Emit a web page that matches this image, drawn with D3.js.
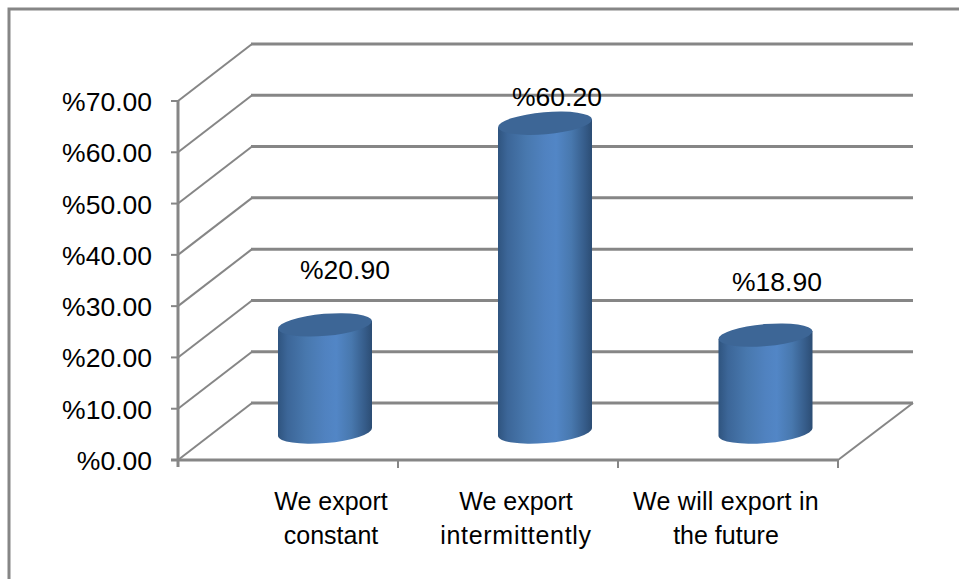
<!DOCTYPE html>
<html><head><meta charset="utf-8">
<script src="https://cdn.jsdelivr.net/npm/d3@7/dist/d3.min.js"></script>
<style>html,body{margin:0;padding:0;background:#fff;overflow:hidden}svg{display:block}text{font-family:"Liberation Sans",Arial,sans-serif;fill:#000}</style>
</head><body><svg id="c" width="959" height="579"></svg>
<script>
const categories=[["We export","constant"],["We export","intermittently"],["We will export in","the future"]];
const values=[20.9,60.2,18.9];
const dataLabels=["%20.90","%60.20","%18.90"];
const ticks=[0,10,20,30,40,50,60,70];
const tickLabels=["%0.00","%10.00","%20.00","%30.00","%40.00","%50.00","%60.00","%70.00"];

const svg=d3.select("#c");
const W=959,H=579,grey="#868686";
const y=d3.scaleLinear().domain([0,70]).range([460,101]);
const x=d3.scaleBand().domain([0,1,2]).range([178,838]);
const dx=74,dy=-57;
const catX=[331,516,726], labX=[345,557,777], labY=[279,106,291];

svg.append("rect").attr("x",9).attr("y",9).attr("width",W).attr("height",H).attr("fill","#fff").attr("stroke",grey).attr("stroke-width",3);

const g=svg.append("defs").append("linearGradient").attr("id","cyl").attr("x1",0).attr("x2",1).attr("y1",0).attr("y2",0);
[[0,"#2f547f"],[.1,"#3c6698"],[.3,"#4878ae"],[.5,"#5082c0"],[.62,"#5286c6"],[.78,"#4878ae"],[.93,"#355b88"],[1,"#2c4d74"]]
 .forEach(s=>g.append("stop").attr("offset",s[0]).attr("stop-color",s[1]));

ticks.forEach((t,k)=>{
  svg.append("path").attr("fill","none").attr("stroke",grey).attr("stroke-width",2)
    .attr("d",d3.line()([[178,y(t)],[178+dx,y(t)+dy]]));
  svg.append("line").attr("x1",178+dx-1).attr("x2",178+dx+661).attr("y1",y(t)+dy).attr("y2",y(t)+dy).attr("stroke",grey).attr("stroke-width",3);
  svg.append("line").attr("x1",171).attr("x2",178).attr("y1",y(t)).attr("y2",y(t)).attr("stroke",grey).attr("stroke-width",2);
  svg.append("text").attr("x",152).attr("y",y(t)+10).attr("text-anchor","end").attr("font-size",26.5).text(tickLabels[k]);
});
svg.append("line").attr("x1",178).attr("x2",178).attr("y1",y(70)).attr("y2",467).attr("stroke",grey).attr("stroke-width",3);
svg.append("line").attr("x1",171).attr("x2",838).attr("y1",460).attr("y2",460).attr("stroke",grey).attr("stroke-width",3);
svg.append("line").attr("x1",838).attr("y1",460).attr("x2",838+dx+1).attr("y2",460+dy).attr("stroke",grey).attr("stroke-width",2);
[0,1,2].forEach(i=>{
  const tx=x(i)+x.bandwidth();
  svg.append("line").attr("x1",tx).attr("x2",tx).attr("y1",460).attr("y2",468).attr("stroke",grey).attr("stroke-width",2);
});

const rx=47,ry=11,slope=-8/94;
values.forEach((v,i)=>{
  const cx=x(i)+x.bandwidth()/2+37+(i===2?.5:0);
  const base=432, top=base-(y(0)-y(v));
  const yl=-slope*rx, yr=slope*rx;
  const gr=svg.append("g");
  gr.append("path").attr("fill","url(#cyl)")
    .attr("d",`M${cx-rx},${top+yl} L${cx-rx},${base+yl} A${rx},${ry} -4.9 0 0 ${cx+rx},${base+yr} L${cx+rx},${top+yr} Z`);
  gr.append("ellipse").attr("cx",cx).attr("cy",top).attr("rx",rx).attr("ry",ry)
    .attr("transform",`rotate(-4.9 ${cx} ${top})`).attr("fill","#3d6696");
  svg.append("text").attr("x",labX[i]).attr("y",labY[i]).attr("text-anchor","middle").attr("font-size",26.5).text(dataLabels[i]);
});

categories.forEach((c,i)=>{
  c.forEach((s,j)=>{
    const t=svg.append("text").attr("x",catX[i]).attr("y",510+j*34).attr("text-anchor","middle").attr("font-size",25).text(s);
    if(s==="intermittently") t.attr("letter-spacing",.7);
    if(s==="We will export in") t.attr("letter-spacing",.25);
  });
});
</script></body></html>
